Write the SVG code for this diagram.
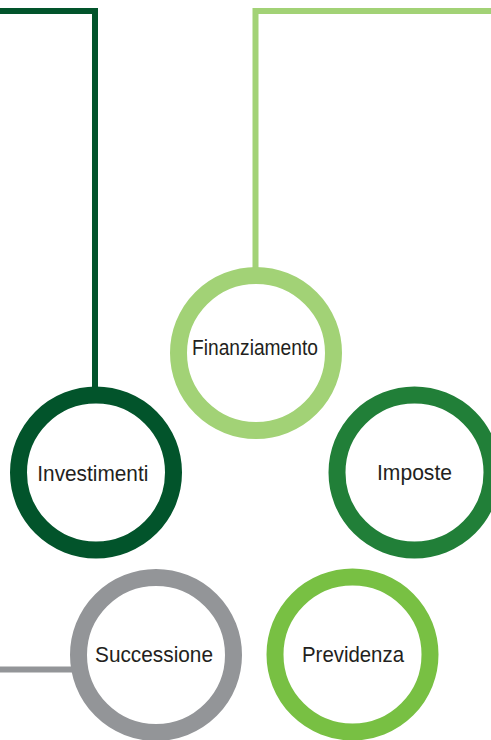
<svg xmlns="http://www.w3.org/2000/svg" width="491" height="740" viewBox="0 0 491 740">
<style>
.ring{fill:#ffffff;stroke-width:17}
.conn{fill:none;stroke-width:6}
.lbl{font-family:"Liberation Sans",Arial,sans-serif;font-size:22px;fill:#231f20;text-anchor:middle}
</style>
<rect width="491" height="740" fill="#ffffff"/>
<g id="connectors">
<path class="conn" d="M0,11 H95 V390" stroke="#02542b"/>
<path class="conn" d="M255.5,272 V11 H491" stroke="#a2d276"/>
<path class="conn" d="M0,669.5 H78" stroke="#939598" stroke-width="5"/>
</g>
<g id="finanziamento">
<circle class="ring" cx="256" cy="353" r="77.5" stroke="#a2d276"/>
<text class="lbl" x="255" y="355" textLength="126" lengthAdjust="spacingAndGlyphs">Finanziamento</text>
</g>
<g id="investimenti">
<circle class="ring" cx="96" cy="472.5" r="77.5" stroke="#02542b"/>
<text class="lbl" x="92.8" y="481" textLength="111" lengthAdjust="spacingAndGlyphs">Investimenti</text>
</g>
<g id="imposte">
<circle class="ring" cx="414.5" cy="472.5" r="77.5" stroke="#217f38"/>
<text class="lbl" x="414.5" y="480" textLength="75" lengthAdjust="spacingAndGlyphs">Imposte</text>
</g>
<g id="successione">
<circle class="ring" cx="156" cy="655" r="77.5" stroke="#939598"/>
<text class="lbl" x="154" y="662" textLength="118" lengthAdjust="spacingAndGlyphs">Successione</text>
</g>
<g id="previdenza">
<circle class="ring" cx="352.5" cy="654.5" r="77.5" stroke="#78c043"/>
<text class="lbl" x="353" y="662" textLength="102" lengthAdjust="spacingAndGlyphs">Previdenza</text>
</g>
</svg>
